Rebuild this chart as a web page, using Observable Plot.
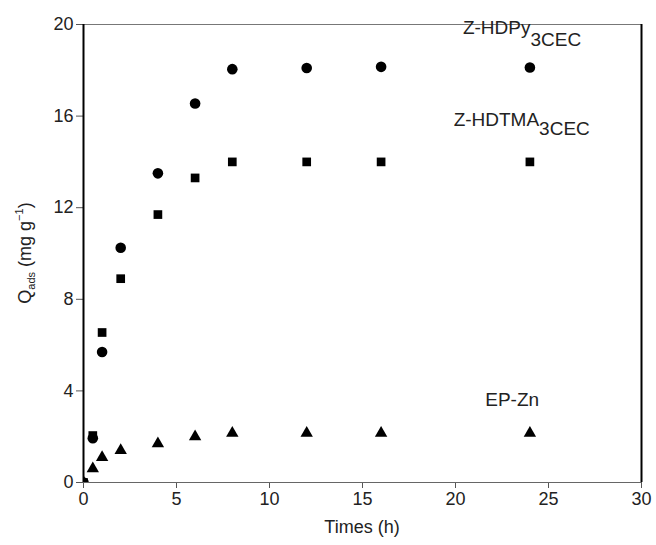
<!DOCTYPE html>
<html><head><meta charset="utf-8">
<script src="https://cdn.jsdelivr.net/npm/d3@7"></script>
<script src="https://cdn.jsdelivr.net/npm/@observablehq/plot@0.6"></script>
<style>body{margin:0;background:#fff} svg{display:block}</style>
</head><body><div id="chart"></div>
<script>
const times = [0, 0.5, 1, 2, 4, 6, 8, 12, 16, 24];
const hdpy  = [0, 1.93, 5.7, 10.25, 13.5, 16.55, 18.05, 18.1, 18.15, 18.12];
const hdtma = [0, 2.05, 6.55, 8.9, 11.7, 13.3, 14.0, 14.0, 14.0, 14.0];
const epzn  = [0, 0.6, 1.1, 1.4, 1.7, 2.0, 2.15, 2.15, 2.15, 2.15];
const xTicks = [0, 5, 10, 15, 20, 25, 30];
const yTicks = [0, 4, 8, 12, 16, 20];
const labelNames = ["Z-HDPy", "Z-HDTMA", "EP-Zn"];
const labelSubs  = ["3CEC", "3CEC", ""];
const labelX = [20.4, 19.9, 21.6];
const labelY = [19.6, 15.55, 3.32];
const subDy = [12, 9, 0];

const rows = (ys) => times.map((t, i) => ({t, q: ys[i]}));
const labels = labelNames.map((n, i) => ({n, x: labelX[i], y: labelY[i]}));

const plot = Plot.plot({
  width: 656, height: 545,
  marginLeft: 83, marginRight: 15, marginTop: 24, marginBottom: 63,
  style: {fontFamily: "'Liberation Sans', Arial, sans-serif", fontSize: "18px", color: "#222", background: "#fff"},
  x: {domain: [0, 30]},
  y: {domain: [0, 20]},
  marks: [
    Plot.axisX(xTicks, {tickSize: 6, tickPadding: 4, stroke: "#555", fill: "#222", label: null}),
    Plot.axisY(yTicks, {tickSize: 7, tickPadding: 3, stroke: "#555", fill: "#222", label: null}),
    Plot.ruleY([0], {stroke: "#666", strokeWidth: 1.2}),
    Plot.ruleY([20], {stroke: "#777", strokeWidth: 1}),
    Plot.ruleX([0], {stroke: "#000", strokeWidth: 2}),
    Plot.ruleX([30], {stroke: "#000", strokeWidth: 2}),
    Plot.dot(rows(hdpy), {x: "t", y: "q", symbol: "circle", r: 5.3, fill: "#000", stroke: "none", clip: true}),
    Plot.dot(rows(hdtma), {x: "t", y: "q", symbol: "square", r: 4.9, fill: "#000", stroke: "none", clip: true}),
    Plot.dot(rows(epzn), {x: "t", y: "q", symbol: "triangle", r: 4.6, fill: "#000", stroke: "none", clip: true}),
    Plot.text(labels, {x: "x", y: "y", text: "n", textAnchor: "start", lineAnchor: "bottom", fontSize: 19, fill: "#222"})
  ]
});

const svg = d3.select(plot);
svg.selectAll('g[aria-label="text"] text').each(function() {
  const t = d3.select(this);
  const i = labelNames.indexOf(t.text());
  if (i >= 0 && labelSubs[i]) t.append("tspan").attr("dy", subDy[i]).text(labelSubs[i]);
});

const xs = plot.scale("x"), ys = plot.scale("y");
svg.append("text")
  .attr("x", xs.apply(15)).attr("y", 533)
  .attr("text-anchor", "middle").attr("fill", "#222").attr("font-size", 18)
  .text("Times (h)");

const yl = svg.append("text")
  .attr("transform", `translate(31,${ys.apply(10)}) rotate(-90)`)
  .attr("text-anchor", "middle").attr("fill", "#222").attr("font-size", 18);
yl.append("tspan").text("Q");
yl.append("tspan").attr("font-size", 11).attr("dy", 4).text("ads");
yl.append("tspan").attr("dy", -4).text(" (mg g");
yl.append("tspan").attr("font-size", 11).attr("dy", -8).text("−1");
yl.append("tspan").attr("dy", 8).text(")");

document.getElementById("chart").appendChild(plot);
</script>
</body></html>
